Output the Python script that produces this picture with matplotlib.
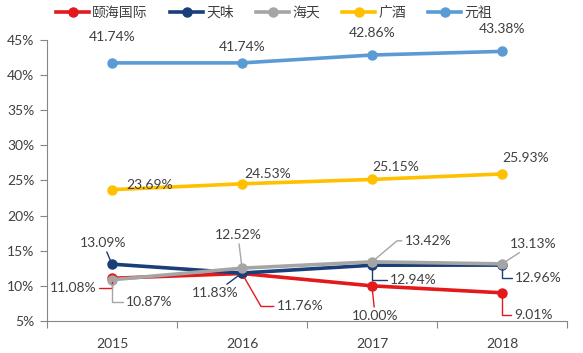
import numpy as np
import matplotlib
matplotlib.use('Agg')
import matplotlib.pyplot as plt
from matplotlib.ticker import FuncFormatter

plt.rcParams['font.family'] = ['Lato', 'Noto Sans CJK SC', 'DejaVu Sans']

years = ['2015', '2016', '2017', '2018']
names = ['颐海国际', '天味', '海天', '广酒', '元祖']
yihai = [11.08, 11.76, 10.00, 9.01]
tianwei = [13.09, 11.83, 12.94, 12.96]
haitian = [10.87, 12.52, 13.42, 13.13]
guangjiu = [23.69, 24.53, 25.15, 25.93]
yuanzu = [41.74, 41.74, 42.86, 43.38]
series = [yihai, tianwei, haitian, guangjiu, yuanzu]
colors = ['#E3191C', '#1A3E78', '#A5A5A5', '#FFC000', '#5B9BD5']

# label offsets in pixels (dx, dy) from each point, plus leader style
# None -> no leader line; otherwise connectionstyle string
offsets = {
    0: [(-39, -10, 'angle,angleA=0,angleB=90,rad=0'), (58, -33, 'angle,angleA=0,angleB=-60,rad=0'),
        (3, -30, 'arc3'), (31, -22, 'angle,angleA=0,angleB=90,rad=0')],
    1: [(-9, 21, 'arc3'), (-27, -20, 'arc3'), (41, -15, 'angle,angleA=0,angleB=90,rad=0'),
        (36, -13, 'angle,angleA=0,angleB=90,rad=0')],
    2: [(37, -22, 'angle,angleA=0,angleB=90,rad=0'), (-4, 33, 'arc3'), (56, 21, 'angle,angleA=0,angleB=40,rad=0'),
        (31, 20, 'arc3')],
    3: [(38, 5, None), (26, 10, None), (24, 12, None), (24, 16, None)],
    4: [(0, 26, None), (0, 16, None), (0, 22, None), (0, 22, None)],
}

fig = plt.figure(figsize=(5.83, 3.53), dpi=100)
ax = fig.add_axes([0.0806, 0.0907, 0.892, 0.796])
x = np.arange(len(years))

for k, (vals, c, n) in enumerate(zip(series, colors, names)):
    ax.plot(x, vals, color=c, lw=2.6, marker='o', ms=6.5, label=n, zorder=3 + (k == 2))
    for i, v in enumerate(vals):
        dx, dy, cs = offsets[k][i]
        kw = dict(textcoords='offset pixels', ha='center', va='center',
                  fontsize=10, color='#404040', zorder=6)
        if cs is not None:
            kw['arrowprops'] = dict(arrowstyle='-', color=c, lw=1.0,
                                    connectionstyle=cs, shrinkA=0, shrinkB=3)
        ax.annotate('%.2f%%' % v, xy=(i, v), xytext=(dx, dy), **kw)

ax.set_xlim(-0.5, 3.5)
ax.set_ylim(5, 45)
ax.set_yticks(np.arange(5, 46, 5))
ax.yaxis.set_major_formatter(FuncFormatter(lambda v, p: '%d%%' % v))
ax.set_xticks(x)
ax.set_xticklabels(years)
ax.set_xticks(np.arange(-0.5, 3.6, 1), minor=True)
ax.tick_params(axis='x', which='major', length=0, pad=12, labelsize=10, colors='#404040')
ax.tick_params(axis='x', which='minor', length=5, color='#868686', width=0.8)
ax.tick_params(axis='y', length=5, color='#868686', width=0.8, labelsize=10,
               labelcolor='#404040', pad=4)
for s in ['top', 'right']:
    ax.spines[s].set_visible(False)
for s in ['left', 'bottom']:
    ax.spines[s].set_color('#868686')
    ax.spines[s].set_linewidth(0.8)

fig.legend(loc='upper center', bbox_to_anchor=(0.47, 1.02), ncol=5, frameon=False,
           fontsize=10, handlelength=2.4, columnspacing=1.6, handletextpad=0.2,
           labelcolor='#404040')

fig.savefig('out.png', dpi=100)
